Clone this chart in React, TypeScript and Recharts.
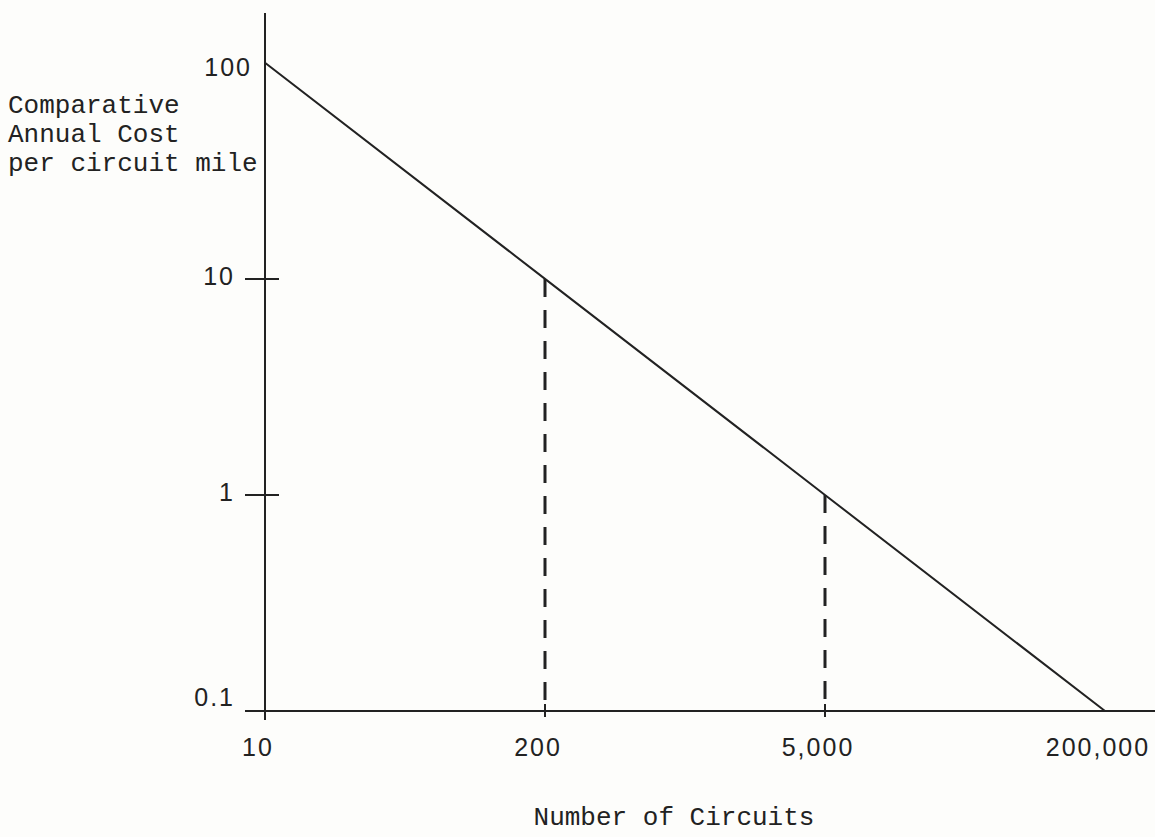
import { LineChart, Line, XAxis, YAxis, ReferenceLine, Label } from 'recharts'

// values
const circuits = ['10', '200', '5,000', '200,000']
const annualCost = [100, 10, 1, 0.1]
const costTicks = [0.1, 1, 10, 100]
const costDomain = [0.0909, 170]
const yTitle = ['Comparative', 'Annual Cost', 'per circuit mile']
const xTitle = 'Number of Circuits'

const data = circuits.map((c, i) => ({ circuits: c, cost: annualCost[i] }))

const INK = '#222222'
const SANS = '"Liberation Sans", Arial, Helvetica, sans-serif'
const MONO = '"Liberation Mono", "Courier New", monospace'

function CostTick({ x, y, payload }: any) {
  const v = payload.value
  const isTop = v === costTicks[costTicks.length - 1]
  const isBottom = v === costTicks[0]
  return (
    <g>
      {!isTop && !isBottom && (
        <line x1={x} x2={x + 34} y1={y} y2={y} stroke={INK} strokeWidth={2} />
      )}
      <text
        x={isTop ? x + 7 : x - 10}
        y={isBottom ? y - 14 : isTop ? y + 4 : y - 3}
        textAnchor="end"
        dominantBaseline="central"
        style={{ fontFamily: SANS, fontSize: 25, letterSpacing: 2 }}
        fill={INK}
      >
        {String(v)}
      </text>
    </g>
  )
}

function CircuitTick({ x, y, payload, index }: any) {
  const mid = index > 0 && index < circuits.length - 1
  return (
    <g>
      {mid && <line x1={x} x2={x} y1={y - 16} y2={y - 3} stroke={INK} strokeWidth={2} />}
      <text
        x={x - 7}
        y={y + 27}
        textAnchor="middle"
        dominantBaseline="central"
        style={{ fontFamily: SANS, fontSize: 25, letterSpacing: 2 }}
        fill={INK}
      >
        {payload.value}
      </text>
    </g>
  )
}

function YTitle({ viewBox }: any) {
  return (
    <text x={viewBox.x + 8} y={viewBox.y + 100} style={{ fontFamily: MONO, fontSize: 26 }} fill={INK}>
      {yTitle.map((line, i) => (
        <tspan key={line} x={viewBox.x + 8} dy={i === 0 ? 0 : 29}>
          {line}
        </tspan>
      ))}
    </text>
  )
}

function XTitle({ viewBox }: any) {
  return (
    <text
      x={viewBox.x + viewBox.width / 2 - 26}
      y={viewBox.y + 98}
      textAnchor="middle"
      dominantBaseline="central"
      style={{ fontFamily: MONO, fontSize: 26 }}
      fill={INK}
    >
      {xTitle}
    </text>
  )
}

export default function App() {
  return (
    <div style={{ position: 'absolute', left: 0, top: 0, width: 1155, height: 837, background: '#fdfdfb' }}>
      <LineChart width={1155} height={837} data={data} margin={{ top: 13, right: 0, bottom: 87, left: 0 }}>
        <XAxis
          dataKey="circuits"
          type="category"
          padding={{ left: 20, right: 50 }}
          axisLine={false}
          tickLine={false}
          tickSize={0}
          tickMargin={0}
          height={30}
          interval={0}
          tick={<CircuitTick />}
        >
          <Label content={(p: any) => <XTitle {...p} />} />
        </XAxis>
        <YAxis
          type="number"
          scale="log"
          domain={costDomain}
          allowDataOverflow
          ticks={costTicks}
          width={245}
          axisLine={false}
          tickLine={false}
          tickSize={0}
          tickMargin={0}
          interval={0}
          tick={<CostTick />}
        >
          <Label content={(p: any) => <YTitle {...p} />} />
        </YAxis>
        <ReferenceLine x={circuits[0]} stroke={INK} strokeWidth={2} />
        <ReferenceLine y={costTicks[0]} stroke={INK} strokeWidth={2} />
        <ReferenceLine
          segment={[
            { x: circuits[1], y: annualCost[1] },
            { x: circuits[1], y: costTicks[0] },
          ]}
          stroke={INK}
          strokeWidth={3}
          strokeDasharray="18 13"
        />
        <ReferenceLine
          segment={[
            { x: circuits[2], y: annualCost[2] },
            { x: circuits[2], y: costTicks[0] },
          ]}
          stroke={INK}
          strokeWidth={3}
          strokeDasharray="18 13"
        />
        <Line
          dataKey="cost"
          type="linear"
          stroke={INK}
          strokeWidth={2}
          dot={false}
          activeDot={false}
          isAnimationActive={false}
        />
      </LineChart>
    </div>
  )
}
